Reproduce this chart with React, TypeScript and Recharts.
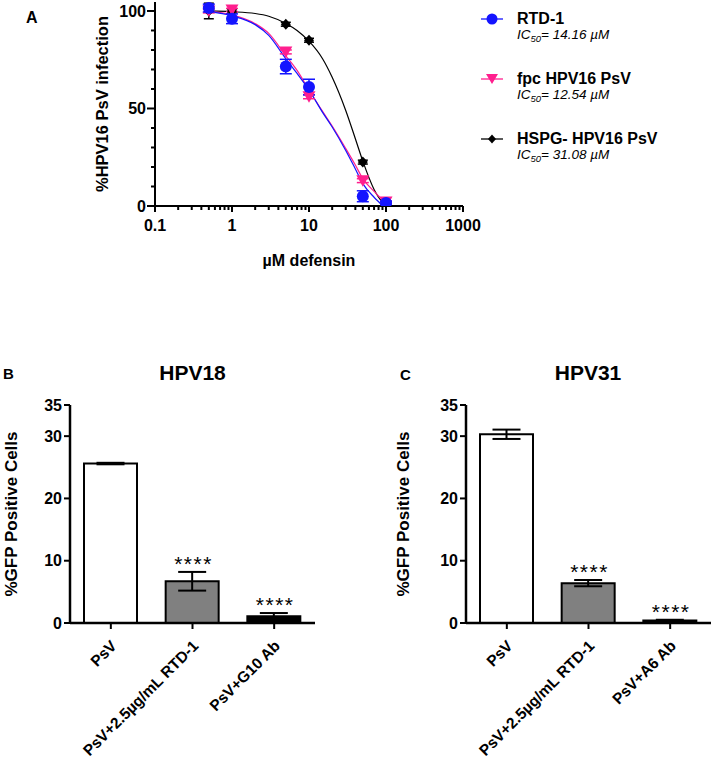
import {
  ComposedChart,
  Line,
  Scatter,
  Bar,
  Cell,
  XAxis,
  YAxis,
  ErrorBar,
  Label,
  Legend,
} from 'recharts';

// ── Panel A: dose response, µM defensin (log x) ──
const doses = [0.5, 1, 5, 10, 50, 100];
const rtdMean = [101.5, 96, 71.5, 61, 5, 1.5];
const rtdSem = [2, 2.5, 3.7, 4, 2.8, 1];
const fpcMean = [100, 100.5, 79, 56, 13, 2];
const fpcSem = [1, 0.8, 1, 1, 1, 0.5];
const hspgMean = [100, 100, 93.2, 85, 22.5, 1];
const hspgSem = [4, 1, 1, 1, 1, 0.5];

// fitted curves
const fitDoses = [0.5, 1, 2, 3, 5, 7, 10, 15, 20, 30, 40, 50, 70, 90, 100];
const rtdFit = [99.8, 97.5, 93, 87.5, 75.5, 68, 59.5, 48, 40.5, 28.5, 19, 11.5, 4.5, 0.3, null];
const fpcFit = [99.8, 98, 93.5, 88.5, 77, 69.5, 59.5, 48.5, 41, 29.5, 21, 14, 7.5, 3.2, 2];
const hspgFit = [100, 99.6, 98.7, 97.3, 93.6, 90, 84.5, 75.5, 66, 49, 34.5, 23, 8.5, 2, 0.5];

const seriesNames = ['RTD-1', 'fpc HPV16 PsV', 'HSPG- HPV16 PsV'];
const ic50 = [14.16, 12.54, 31.08];

const doseTicks = [
  0.1, 0.2, 0.3, 0.4, 0.5, 0.6, 0.7, 0.8, 0.9,
  1, 2, 3, 4, 5, 6, 7, 8, 9,
  10, 20, 30, 40, 50, 60, 70, 80, 90,
  100, 200, 300, 400, 500, 600, 700, 800, 900, 1000,
];
const doseMajor = [0.1, 1, 10, 100, 1000];
const infTicks = [0, 10, 20, 30, 40, 50, 60, 70, 80, 90, 100];
const infMajor = [0, 50, 100];

// ── Panels B / C: %GFP positive cells ──
const hpv18Groups = ['PsV', 'PsV+2.5µg/mL RTD-1', 'PsV+G10 Ab'];
const hpv18Mean = [25.6, 6.7, 1.1];
const hpv18Sem = [0.12, 1.5, 0.5];
const hpv31Groups = ['PsV', 'PsV+2.5µg/mL RTD-1', 'PsV+A6 Ab'];
const hpv31Mean = [30.3, 6.4, 0.4];
const hpv31Sem = [0.75, 0.5, 0.12];
const signif = ['', '****', '****'];
const gfpTicks = [0, 10, 20, 30, 35];

const FONT = '"Liberation Sans", Arial, Helvetica, sans-serif';
const BLUE = '#1414ff';
const PINK = '#ff1f8e';
const barFills = ['#ffffff', '#808080', '#000000'];

const pts = (mean: number[], sem: number[]) =>
  doses.map((x, i) => ({ x, y: mean[i], err: sem[i] }));
const fit = (vals: (number | null)[]) => fitDoses.map((x, i) => ({ x, y: vals[i] }));

const DoseXTick = ({ x, y, payload }: any) => {
  const major = doseMajor.includes(payload.value);
  return (
    <g>
      <line x1={x} x2={x} y1={y} y2={y + (major ? 6 : 4)} stroke="#000" strokeWidth={2} />
      {major && (
        <text x={x} y={y + 25} textAnchor="middle" fontSize={16} fontWeight="bold" fill="#000" fontFamily={FONT}>
          {String(payload.value)}
        </text>
      )}
    </g>
  );
};

const DoseYTick = ({ x, y, payload }: any) => {
  const major = infMajor.includes(payload.value);
  return (
    <g>
      <line x1={x - (major ? 8 : 4)} x2={x} y1={y} y2={y} stroke="#000" strokeWidth={2} />
      {major && (
        <text x={x - 9} y={y} dy="0.355em" textAnchor="end" fontSize={16} fontWeight="bold" fill="#000" fontFamily={FONT}>
          {payload.value}
        </text>
      )}
    </g>
  );
};

const circleShape = ({ cx, cy }: any) => <circle cx={cx} cy={cy} r={6} fill={BLUE} />;
const triShape = ({ cx, cy }: any) => (
  <path d={`M${cx - 6.5},${cy - 5.5}L${cx + 6.5},${cy - 5.5}L${cx},${cy + 6}Z`} fill={PINK} />
);
const diamondShape = ({ cx, cy }: any) => (
  <path d={`M${cx},${cy - 5.5}L${cx + 5},${cy}L${cx},${cy + 5.5}L${cx - 5},${cy}Z`} fill="#000" />
);

const markerColors = [BLUE, PINK, '#000'];
const LegendMarker = ({ i }: { i: number }) => {
  const c = markerColors[i];
  return (
    <svg width={26} height={14} style={{ position: 'absolute', left: 2, top: 12 }}>
      <line x1={1} x2={23} y1={7} y2={7} stroke={c} strokeWidth={1.3} />
      {i === 0 && <circle cx={12} cy={7} r={5.5} fill={c} />}
      {i === 1 && <path d="M6,2L18,2L12,12Z" fill={c} />}
      {i === 2 && <path d="M12,2.5L16,7L12,11.5L8,7Z" fill={c} />}
    </svg>
  );
};

const DoseLegend = () => (
  <div style={{ position: 'relative', width: 230, height: 180, fontFamily: FONT, color: '#000' }}>
    {seriesNames.map((name, i) => (
      <div key={name} style={{ position: 'absolute', left: 0, top: i * 60, width: 230, height: 50 }}>
        <LegendMarker i={i} />
        <div style={{ position: 'absolute', left: 39, top: 11, fontSize: 16, lineHeight: '16px', fontWeight: 'bold', whiteSpace: 'nowrap' }}>
          {name}
        </div>
        <div style={{ position: 'absolute', left: 39, top: 28, fontSize: 13.5, lineHeight: '13px', fontStyle: 'italic', whiteSpace: 'nowrap' }}>
          IC<sub style={{ fontSize: 9.5, verticalAlign: '-3px' }}>50</sub>= {ic50[i].toFixed(2)} µM
        </div>
      </div>
    ))}
  </div>
);

function DosePanel() {
  return (
    <ComposedChart width={711} height={276} margin={{ top: 2, right: 248, bottom: 0, left: 0 }}>
      <XAxis
        dataKey="x"
        type="number"
        scale="log"
        domain={[0.1, 1000]}
        ticks={doseTicks}
        interval={0}
        allowDataOverflow
        axisLine={{ stroke: '#000', strokeWidth: 2 }}
        tickLine={false}
        tickSize={0}
        tickMargin={0}
        tick={<DoseXTick />}
        height={70}
      >
        <Label
          value="µM defensin"
          position="insideBottom"
          offset={10}
          style={{ fontSize: 16, fontWeight: 'bold', fill: '#000', fontFamily: FONT }}
        />
      </XAxis>
      <YAxis
        type="number"
        domain={[0, 104.6]}
        ticks={infTicks}
        interval={0}
        allowDataOverflow
        axisLine={{ stroke: '#000', strokeWidth: 2 }}
        tickLine={false}
        tickSize={0}
        tickMargin={0}
        tick={<DoseYTick />}
        width={155}
      >
        <Label
          value="%HPV16 PsV infection"
          angle={-90}
          position="insideLeft"
          offset={102}
          style={{ textAnchor: 'middle', fontSize: 16.5, fontWeight: 'bold', fill: '#000', fontFamily: FONT }}
        />
      </YAxis>
      <Line data={fit(hspgFit)} dataKey="y" type="monotone" stroke="#000" strokeWidth={1.2} dot={false} isAnimationActive={false} />
      <Line data={fit(fpcFit)} dataKey="y" type="monotone" stroke={PINK} strokeWidth={1.2} dot={false} isAnimationActive={false} />
      <Line data={fit(rtdFit)} dataKey="y" type="monotone" stroke={BLUE} strokeWidth={1.2} dot={false} isAnimationActive={false} />
      <Scatter data={pts(hspgMean, hspgSem)} dataKey="y" shape={diamondShape} isAnimationActive={false}>
        <ErrorBar dataKey="err" direction="y" width={5} stroke="#000" strokeWidth={1.5} />
      </Scatter>
      <Scatter data={pts(fpcMean, fpcSem)} dataKey="y" shape={triShape} isAnimationActive={false}>
        <ErrorBar dataKey="err" direction="y" width={6} stroke={PINK} strokeWidth={1.5} />
      </Scatter>
      <Scatter data={pts(rtdMean, rtdSem)} dataKey="y" shape={circleShape} isAnimationActive={false}>
        <ErrorBar dataKey="err" direction="y" width={6} stroke={BLUE} strokeWidth={1.5} />
      </Scatter>
      <Legend
        layout="vertical"
        align="center"
        verticalAlign="middle"
        content={<DoseLegend />}
        wrapperStyle={{ left: 478, top: 0, width: 230, height: 180 }}
      />
    </ComposedChart>
  );
}

const SlantTick = ({ x, y, payload }: any) => (
  <g transform={`translate(${x + 3},${y + 12})`}>
    <text textAnchor="end" dy="0.35em" transform="rotate(-45)" fontSize={15.5} fontWeight="bold" fill="#000" fontFamily={FONT}>
      {payload.value}
    </text>
  </g>
);

const StarMark = ({ cx, cy, payload }: any) =>
  payload.sig ? (
    <text x={cx + 1} y={cy - 1} textAnchor="middle" fontSize={21} letterSpacing={1.5} fill="#000" fontFamily={FONT}>
      {payload.sig}
    </text>
  ) : (
    <g />
  );

interface BarPanelProps {
  groups: string[];
  mean: number[];
  sem: number[];
  width: number;
  right: number;
  axisWidth: number;
  labelOffset: number;
}

function BarPanel({ groups, mean, sem, width, right, axisWidth, labelOffset }: BarPanelProps) {
  const data = groups.map((g, i) => ({
    group: g,
    mean: mean[i],
    err: sem[i],
    top: mean[i] + sem[i],
    sig: signif[i],
  }));
  return (
    <ComposedChart width={width} height={382} data={data} margin={{ top: 25, right, bottom: 0, left: 0 }}>
      <XAxis
        dataKey="group"
        interval={0}
        height={139}
        axisLine={{ stroke: '#000', strokeWidth: 2.5 }}
        tickLine={{ stroke: '#000', strokeWidth: 2 }}
        tickSize={6}
        tickMargin={2}
        tick={<SlantTick />}
      />
      <YAxis
        type="number"
        domain={[0, 35]}
        ticks={gfpTicks}
        interval={0}
        width={axisWidth}
        axisLine={{ stroke: '#000', strokeWidth: 2.5 }}
        tickLine={{ stroke: '#000', strokeWidth: 2 }}
        tickSize={6}
        tickMargin={2}
        tick={{ fill: '#000', fontSize: 16, fontWeight: 'bold', fontFamily: FONT }}
      >
        <Label
          value="%GFP Positive Cells"
          angle={-90}
          position="insideLeft"
          offset={labelOffset}
          style={{ textAnchor: 'middle', fontSize: 17, fontWeight: 'bold', fill: '#000', fontFamily: FONT }}
        />
      </YAxis>
      <Bar dataKey="mean" barSize={53} stroke="#000" strokeWidth={2} isAnimationActive={false}>
        {data.map((d, i) => (
          <Cell key={d.group} fill={barFills[i]} />
        ))}
        <ErrorBar dataKey="err" direction="y" width={14} stroke="#000" strokeWidth={2} />
      </Bar>
      <Scatter dataKey="top" shape={StarMark} isAnimationActive={false} />
    </ComposedChart>
  );
}

const abs = (left: number, top: number): React.CSSProperties => ({ position: 'absolute', left, top });

export default function App() {
  return (
    <div style={{ position: 'absolute', left: 0, top: 0, width: 711, height: 762, overflow: 'hidden', background: '#fff', fontFamily: FONT, color: '#000' }}>
      <div style={abs(0, 0)}>
        <DosePanel />
      </div>
      <div style={{ ...abs(26, 9.5), fontSize: 16, lineHeight: '16px', fontWeight: 'bold' }}>A</div>

      <div style={{ ...abs(3, 366), fontSize: 15, lineHeight: '15px', fontWeight: 'bold' }}>B</div>
      <div style={{ ...abs(92.5, 362), width: 200, textAlign: 'center', fontSize: 21, lineHeight: '21px', fontWeight: 'bold' }}>
        HPV18
      </div>
      <div style={abs(0, 380)}>
        <BarPanel groups={hpv18Groups} mean={hpv18Mean} sem={hpv18Sem} width={330} right={15} axisWidth={70} labelOffset={11} />
      </div>

      <div style={{ ...abs(400, 367), fontSize: 15, lineHeight: '15px', fontWeight: 'bold' }}>C</div>
      <div style={{ ...abs(488, 362), width: 200, textAlign: 'center', fontSize: 21, lineHeight: '21px', fontWeight: 'bold' }}>
        HPV31
      </div>
      <div style={abs(381, 380)}>
        <BarPanel groups={hpv31Groups} mean={hpv31Mean} sem={hpv31Sem} width={330} right={0} axisWidth={85} labelOffset={22} />
      </div>
    </div>
  );
}
